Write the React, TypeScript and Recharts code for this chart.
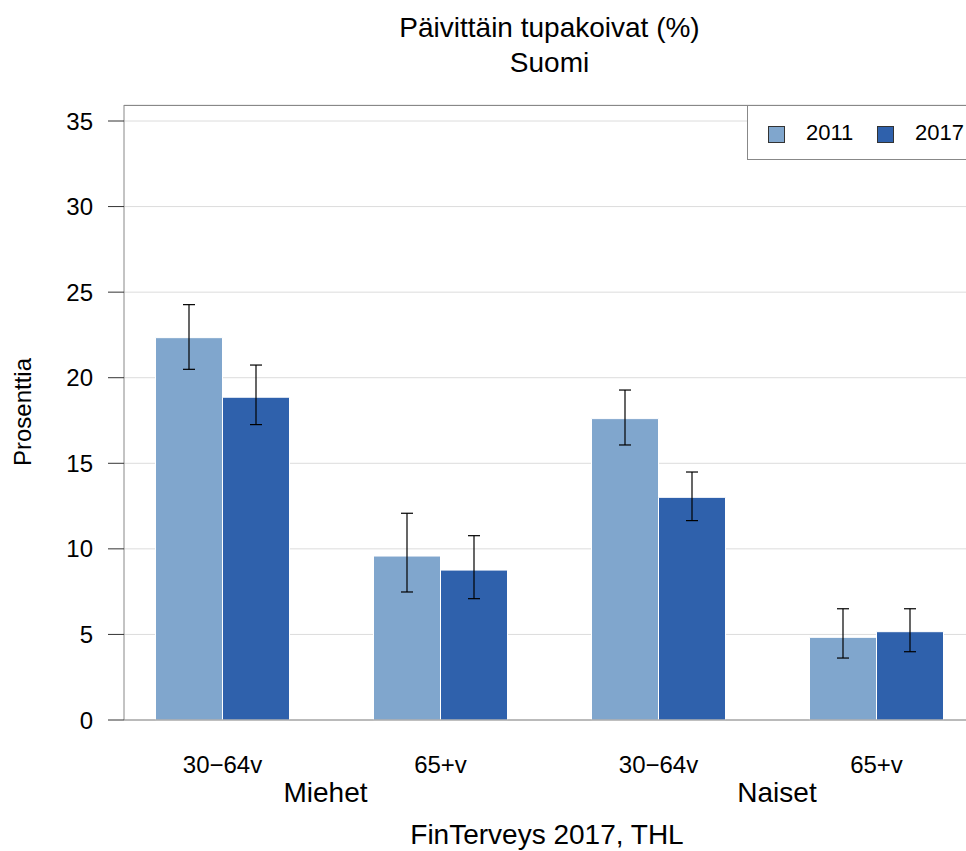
import { BarChart, Bar, XAxis, YAxis, CartesianGrid, ErrorBar, Legend } from 'recharts'

const ageGroups = ['30−64v', '65+v', '30−64v', '65+v']
const values2011 = [22.34, 9.58, 17.61, 4.83]
const values2017 = [18.86, 8.76, 13.01, 5.16]
const lower2011 = [20.49, 7.48, 16.07, 3.62]
const upper2011 = [24.27, 12.08, 19.28, 6.5]
const lower2017 = [17.26, 7.09, 11.65, 3.99]
const upper2017 = [20.74, 10.77, 14.49, 6.5]
const yTicks = [0, 5, 10, 15, 20, 25, 30, 35]

const COLOR_2011 = '#80a6cd'
const COLOR_2017 = '#2f61ac'
const FONT = '"Liberation Sans", Arial, sans-serif'

const data = ageGroups.map((age, i) => ({
  age,
  y2011: values2011[i],
  y2017: values2017[i],
  e2011: [values2011[i] - lower2011[i], upper2011[i] - values2011[i]],
  e2017: [values2017[i] - lower2017[i], upper2017[i] - values2017[i]],
}))

const AgeTick = ({ x, y, payload }: any) => (
  <text x={x} y={y + 53} textAnchor="middle" fontSize={24} fill="#000" fontFamily={FONT}>
    {payload.value}
  </text>
)

const LegendBox = ({ payload }: any) => (
  <div
    style={{
      position: 'relative',
      width: 240,
      height: 55,
      border: '1px solid #888',
      background: '#fff',
      boxSizing: 'border-box',
      fontFamily: FONT,
    }}
  >
    {(payload || []).map((item: any, i: number) => (
      <div key={item.value}>
        <div
          style={{
            position: 'absolute',
            left: 20 + i * 109,
            top: 20,
            width: 17,
            height: 17,
            boxSizing: 'border-box',
            border: '1px solid #333',
            background: item.color,
          }}
        />
        <div
          style={{
            position: 'absolute',
            left: 58 + i * 109,
            top: 15,
            fontSize: 22,
            lineHeight: '24px',
            color: '#000',
          }}
        >
          {item.value}
        </div>
      </div>
    ))}
  </div>
)

export default function App() {
  return (
    <div
      style={{
        position: 'absolute',
        left: 0,
        top: 0,
        width: 966,
        height: 851,
        overflow: 'hidden',
        background: '#fff',
        fontFamily: FONT,
      }}
    >
      <BarChart
        width={966}
        height={851}
        data={data}
        margin={{ top: 105, right: 0, bottom: 0, left: 0 }}
        barCategoryGap={42}
        barGap={0}
      >
        <CartesianGrid horizontal vertical={false} stroke="#dcdcdc" />
        <XAxis
          dataKey="age"
          height={131}
          padding={{ left: -10.5, right: -19.5 }}
          tickLine={false}
          tickSize={0}
          tickMargin={0}
          axisLine={{ stroke: '#888' }}
          tick={<AgeTick />}
          interval={0}
        />
        <YAxis
          width={124}
          domain={[0, 35]}
          ticks={yTicks}
          interval={0}
          padding={{ top: 16 }}
          tickSize={16}
          tickMargin={15}
          tickLine={{ stroke: '#333' }}
          axisLine={{ stroke: '#888' }}
          tick={{ fontSize: 24, fill: '#000', fontFamily: FONT }}
        />
        <Legend
          layout="vertical"
          align="center"
          verticalAlign="middle"
          wrapperStyle={{ top: 105, left: 747, width: 240 }}
          content={<LegendBox />}
        />
        <Bar dataKey="y2011" name="2011" fill={COLOR_2011} stroke="#fff" strokeWidth={1} isAnimationActive={false}>
          <ErrorBar dataKey="e2011" width={6} stroke="#000" strokeWidth={1.2} />
        </Bar>
        <Bar dataKey="y2017" name="2017" fill={COLOR_2017} stroke="#fff" strokeWidth={1} isAnimationActive={false}>
          <ErrorBar dataKey="e2017" width={6} stroke="#000" strokeWidth={1.2} />
        </Bar>
      </BarChart>
      <svg
        width={966}
        height={851}
        style={{ position: 'absolute', left: 0, top: 0, pointerEvents: 'none' }}
        fontFamily={FONT}
      >
        <line x1={124} y1={105.5} x2={966} y2={105.5} stroke="#888" strokeWidth={1} />
        <text x={549.5} y={37} textAnchor="middle" fontSize={28} fill="#000">
          Päivittäin tupakoivat (%)
        </text>
        <text x={549.5} y={72} textAnchor="middle" fontSize={28} fill="#000">
          Suomi
        </text>
        <text x={31} y={412} transform="rotate(-90 31 412)" textAnchor="middle" fontSize={24} fill="#000">
          Prosenttia
        </text>
        <text x={325.5} y={802} textAnchor="middle" fontSize={28} fill="#000">
          Miehet
        </text>
        <text x={777} y={802} textAnchor="middle" fontSize={28} fill="#000">
          Naiset
        </text>
        <text x={547} y={844} textAnchor="middle" fontSize={28} fill="#000">
          FinTerveys 2017, THL
        </text>
      </svg>
    </div>
  )
}
